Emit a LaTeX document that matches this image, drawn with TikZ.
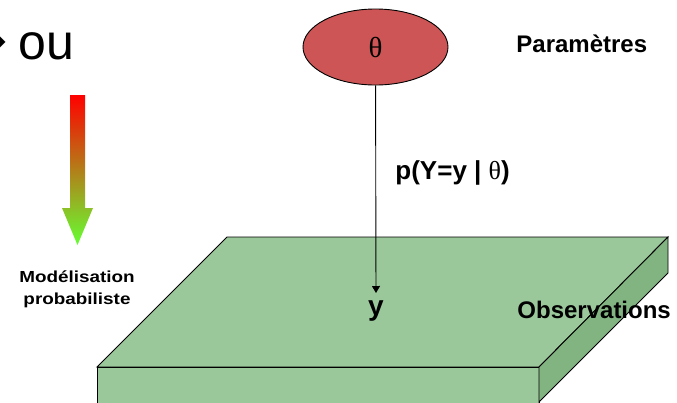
\documentclass[tikz,border=0pt]{standalone}
\usepackage{fontspec}
\setmainfont{Liberation Sans}
\newfontfamily\thetafont{Liberation Serif}
\newfontfamily\arrowfont{DejaVu Sans}
\newfontfamily\stretchfont{Liberation Sans}[FakeStretch=1.18]
\usetikzlibrary{shapes.geometric,arrows.meta}

\definecolor{paramred}{RGB}{205,85,85}
\definecolor{slabtop}{RGB}{155,200,155}
\definecolor{slabside}{RGB}{130,180,130}
\definecolor{arrowgreen}{RGB}{102,255,51}

\tikzset{
  biglabel/.style={font=\fontsize{24}{28}\selectfont\bfseries, inner sep=0pt},
  smalllabel/.style={font=\stretchfont\fontsize{16}{22}\selectfont\bfseries, align=center, inner sep=0pt},
}

\begin{document}
\begin{tikzpicture}[x=1pt,y=-1pt,line width=0.9pt]
    \useasboundingbox (0,0) rectangle (677,402);

    % Slab of observations
    \draw[fill=slabtop] (227,237) -- (668,237) -- (539,367) -- (97,367) -- cycle;
    \draw[fill=slabtop] (97,367) -- (539,367) -- (539,410) -- (97,410) -- cycle;
    \draw[fill=slabside] (539,367) -- (668,237) -- (668,273) -- (539,402) -- cycle;

    % Modelling arrow
    \shade[top color=red, bottom color=arrowgreen] (70,95) -- (85,95) -- (85,208) -- (93,208)
        -- (77.5,245) -- (62,208) -- (70,208) -- cycle;

    % Parameters
    \node[ellipse, draw, fill=paramred, minimum width=145pt, minimum height=76pt, inner sep=0pt]
        (theta) at (375.5,47) {\thetafont\fontsize{29}{29}\selectfont θ};

    % Labels
    \node[anchor=base east, inner sep=0pt, font=\fontsize{50}{50}\selectfont] (ou) at (75,59)
        {{\arrowfont\fontsize{64}{64}\selectfont\raisebox{-3pt}{➔}}\kern-4pt\ ou};
    \node[smalllabel] (model) at (77,289) {Modélisation\\probabiliste};
    \node[biglabel, anchor=west] (params) at (516,44) {Paramètres};
    \node[biglabel, anchor=west, font=\fontsize{26}{28}\selectfont\bfseries] (likelihood) at (395,173)
        {p(Y=y | {\thetafont\mdseries θ})};
    \node[biglabel, anchor=north, font=\fontsize{28}{28}\selectfont\bfseries] (obsy) at (376,300) {y};
    \node[biglabel, anchor=west] (obs) at (517,310) {Observations};

    % Likelihood connector
    \draw[-{Triangle[width=8pt,length=7pt]}, shorten >=7pt] (theta) -- (obsy.north);
\end{tikzpicture}
\end{document}
